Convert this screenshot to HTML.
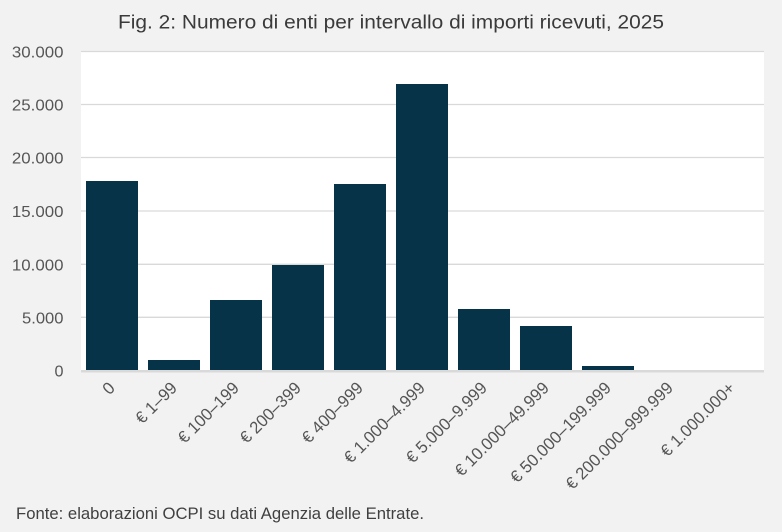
<!DOCTYPE html>
<html><head><meta charset="utf-8"><style>
html,body{margin:0;padding:0;background:#f2f2f2;}
svg{display:block;}
text{font-family:"Liberation Sans",sans-serif;}
</style></head><body>
<svg width="782" height="532" viewBox="0 0 782 532" xmlns="http://www.w3.org/2000/svg">
<rect x="0" y="0" width="782" height="532" fill="#f2f2f2"/>
<text x="118" y="28.5" font-size="19" fill="#3a3a3a" textLength="546" lengthAdjust="spacingAndGlyphs">Fig. 2: Numero di enti per intervallo di importi ricevuti, 2025</text>
<rect x="81" y="51" width="683" height="320" fill="#ffffff"/>
<g stroke="#d9d9d9" stroke-width="1.3">
<line x1="81" y1="51.5" x2="764" y2="51.5"/>
<line x1="81" y1="104.5" x2="764" y2="104.5"/>
<line x1="81" y1="157.5" x2="764" y2="157.5"/>
<line x1="81" y1="211" x2="764" y2="211"/>
<line x1="81" y1="264.3" x2="764" y2="264.3"/>
<line x1="81" y1="317.3" x2="764" y2="317.3"/>
</g>
<g fill="#073349">
<rect x="86" y="181" width="52" height="189"/>
<rect x="148" y="360" width="52" height="10"/>
<rect x="210" y="300" width="52" height="70"/>
<rect x="272" y="265" width="52" height="105"/>
<rect x="334" y="184" width="52" height="186"/>
<rect x="396" y="84" width="52" height="286"/>
<rect x="458" y="309" width="52" height="61"/>
<rect x="520" y="326" width="52" height="44"/>
<rect x="582" y="366" width="52" height="4"/>
</g>
<rect x="81" y="370" width="683" height="2.5" fill="#d9d9d9"/>
<g font-size="16" fill="#555555" text-anchor="end">
<text x="63.5" y="57.5" textLength="51.6" lengthAdjust="spacingAndGlyphs">30.000</text>
<text x="63.5" y="110.5" textLength="51.6" lengthAdjust="spacingAndGlyphs">25.000</text>
<text x="63.5" y="163.5" textLength="51.6" lengthAdjust="spacingAndGlyphs">20.000</text>
<text x="63.5" y="217" textLength="51.6" lengthAdjust="spacingAndGlyphs">15.000</text>
<text x="63.5" y="270.3" textLength="51.6" lengthAdjust="spacingAndGlyphs">10.000</text>
<text x="63.5" y="323.3" textLength="41.5" lengthAdjust="spacingAndGlyphs">5.000</text>
<text x="63.5" y="376.5" textLength="9" lengthAdjust="spacingAndGlyphs">0</text>
</g>
<g font-size="17" fill="#555555" text-anchor="end">
<text transform="translate(116,389) rotate(-45)" textLength="9.3" lengthAdjust="spacingAndGlyphs">0</text>
<text transform="translate(178,389) rotate(-45)" textLength="50.5" lengthAdjust="spacingAndGlyphs">€ 1–99</text>
<text transform="translate(240,389) rotate(-45)" textLength="78.4" lengthAdjust="spacingAndGlyphs">€ 100–199</text>
<text transform="translate(302,389) rotate(-45)" textLength="78.4" lengthAdjust="spacingAndGlyphs">€ 200–399</text>
<text transform="translate(364,389) rotate(-45)" textLength="78.4" lengthAdjust="spacingAndGlyphs">€ 400–999</text>
<text transform="translate(426,389) rotate(-45)" textLength="106.4" lengthAdjust="spacingAndGlyphs">€ 1.000–4.999</text>
<text transform="translate(488,389) rotate(-45)" textLength="106.4" lengthAdjust="spacingAndGlyphs">€ 5.000–9.999</text>
<text transform="translate(550,389) rotate(-45)" textLength="125" lengthAdjust="spacingAndGlyphs">€ 10.000–49.999</text>
<text transform="translate(612,389) rotate(-45)" textLength="134.2" lengthAdjust="spacingAndGlyphs">€ 50.000–199.999</text>
<text transform="translate(674,389) rotate(-45)" textLength="143.5" lengthAdjust="spacingAndGlyphs">€ 200.000–999.999</text>
<text transform="translate(736,389) rotate(-45)" textLength="97" lengthAdjust="spacingAndGlyphs">€ 1.000.000+</text>
</g>
<text x="16" y="519" font-size="16.5" fill="#404040" textLength="408" lengthAdjust="spacingAndGlyphs">Fonte: elaborazioni OCPI su dati Agenzia delle Entrate.</text>
</svg>
</body></html>
